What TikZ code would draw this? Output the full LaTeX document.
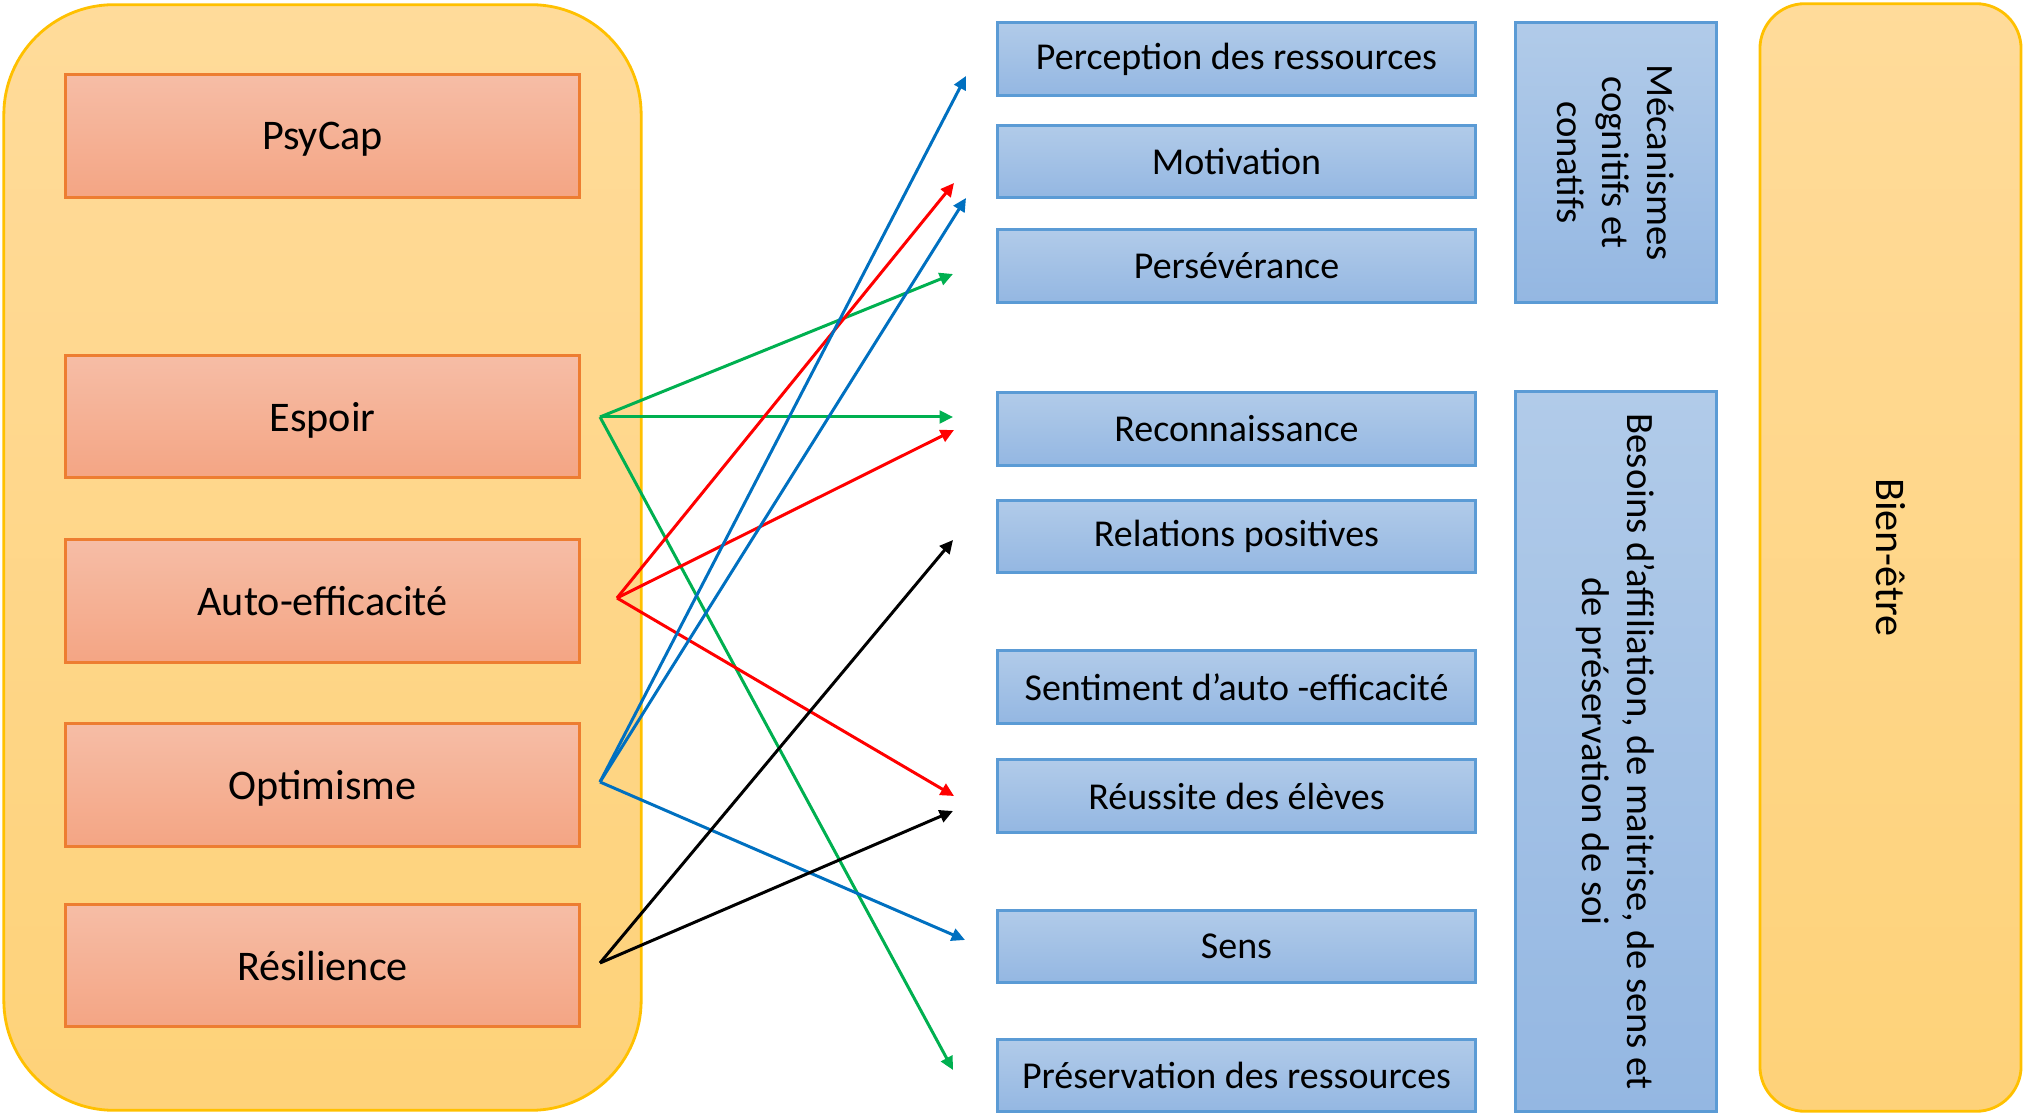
\documentclass[tikz,border=0pt]{standalone}
\usepackage{fontspec}
\setmainfont{Carlito}
\usetikzlibrary{arrows.meta}
\definecolor{contB}{HTML}{FFC000}
\definecolor{contT}{HTML}{FFDB9A}
\definecolor{contBot}{HTML}{FED279}
\definecolor{orB}{HTML}{ED7D31}
\definecolor{orT}{HTML}{F6BDA6}
\definecolor{orBot}{HTML}{F4A584}
\definecolor{blB}{HTML}{5B9BD5}
\definecolor{blT}{HTML}{B1CBE9}
\definecolor{blBot}{HTML}{94B7E2}
\definecolor{lgreen}{HTML}{00B050}
\definecolor{lred}{HTML}{FF0000}
\definecolor{lblue}{HTML}{0070C0}
\begin{document}
\begin{tikzpicture}[x=0.01cm,y=-0.01cm,
 container/.style={draw=contB, line width=0.8pt, top color=contT, bottom color=contBot, inner sep=0pt},
 orangebox/.style={draw=orB, line width=0.85pt, top color=orT, bottom color=orBot, minimum width=5.13cm, minimum height=1.22cm, inner sep=0pt, text depth=0pt, font=\fontsize{12}{14}\selectfont},
 bluebox/.style={draw=blB, line width=0.85pt, top color=blT, bottom color=blBot, minimum width=4.77cm, minimum height=0.72cm, inner sep=0pt, font=\fontsize{10.8}{13}\selectfont},
 bigblue/.style={draw=blB, line width=0.85pt, top color=blT, bottom color=blBot, minimum width=2.0cm, inner sep=0pt},
 vtext/.style={rotate=-90, align=center, inner sep=0pt, font=\fontsize{11}{12.8}\selectfont},
 link/.style={line width=0.85pt, -{Triangle[length=3.8pt,width=3.6pt]}},
]
\useasboundingbox (0,0) rectangle (2023,1113);

% containers
\node[container, rounded corners=1.1cm, minimum width=6.37cm, minimum height=11.05cm] (psy) at (322.5,557.5) {};
\node[container, rounded corners=0.45cm, minimum width=2.61cm, minimum height=11.07cm] (bien) at (1890.5,557.5) {};
\node[vtext, font=\fontsize{12}{14}\selectfont] (bientext) at (1890.5,557.5) {Bien-être};

% left boxes
\node[orangebox] (psycap) at (322.5,136) {PsyCap};
\node[orangebox] (espoir) at (322.5,416.5) {Espoir};
\node[orangebox] (auto) at (322.5,601) {Auto-efficacité};
\node[orangebox] (opti) at (322.5,785) {Optimisme};
\node[orangebox] (resi) at (322.5,965.5) {Résilience};

% right boxes
\node[bluebox] (perc) at (1236.5,59) {Perception des ressources};
\node[bluebox] (moti) at (1236.5,161.5) {Motivation};
\node[bluebox] (pers) at (1236.5,266) {Persévérance};
\node[bluebox] (reco) at (1236.5,429) {Reconnaissance};
\node[bluebox] (rela) at (1236.5,536.5) {Relations positives};
\node[bluebox] (sent) at (1236.5,687) {Sentiment d’auto -efficacité};
\node[bluebox] (reus) at (1236.5,796) {Réussite des élèves};
\node[bluebox] (sens) at (1236.5,946.5) {Sens};
\node[bluebox] (pres) at (1236.5,1075.5) {Préservation des ressources};

% group boxes
\node[bigblue, minimum height=2.79cm] (meca) at (1616,162.5) {};
\node[vtext] (mecatext) at (1616,162.5) {Mécanismes\\cognitifs et\\conatifs};
\node[bigblue, minimum height=7.19cm] (besoins) at (1616,751.5) {};
\node[vtext] (besoinstext) at (1616,751.5) {Besoins d’affiliation, de maitrise, de sens et\\de préservation de soi};

% arrow origins and ends
\coordinate (sE) at (600,417);
\coordinate (sA) at (617,598);
\coordinate (sO) at (600,782);
\coordinate (sR) at (600,963);
\coordinate (tPerc) at (966,76);
\coordinate (tMoti) at (954,183);
\coordinate (tMoti2) at (966,198);
\coordinate (tPers) at (953,274);
\coordinate (tReco) at (953,417);
\coordinate (tReco2) at (954,430);
\coordinate (tRela) at (953,540);
\coordinate (tReus) at (954,796);
\coordinate (tReus2) at (953,811);
\coordinate (tSens) at (965,940);
\coordinate (tPres) at (953,1070);

% connectors
\draw[link, lgreen] (sE) -- (tPers);
\draw[link, lgreen] (sE) -- (tReco);
\draw[link, lgreen] (sE) -- (tPres);
\draw[link, lred] (sA) -- (tMoti);
\draw[link, lred] (sA) -- (tReco2);
\draw[link, lred] (sA) -- (tReus);
\draw[link, lblue] (sO) -- (tPerc);
\draw[link, lblue] (sO) -- (tMoti2);
\draw[link, lblue] (sO) -- (tSens);
\draw[link, black] (sR) -- (tRela);
\draw[link, black] (sR) -- (tReus2);
\end{tikzpicture}
\end{document}
